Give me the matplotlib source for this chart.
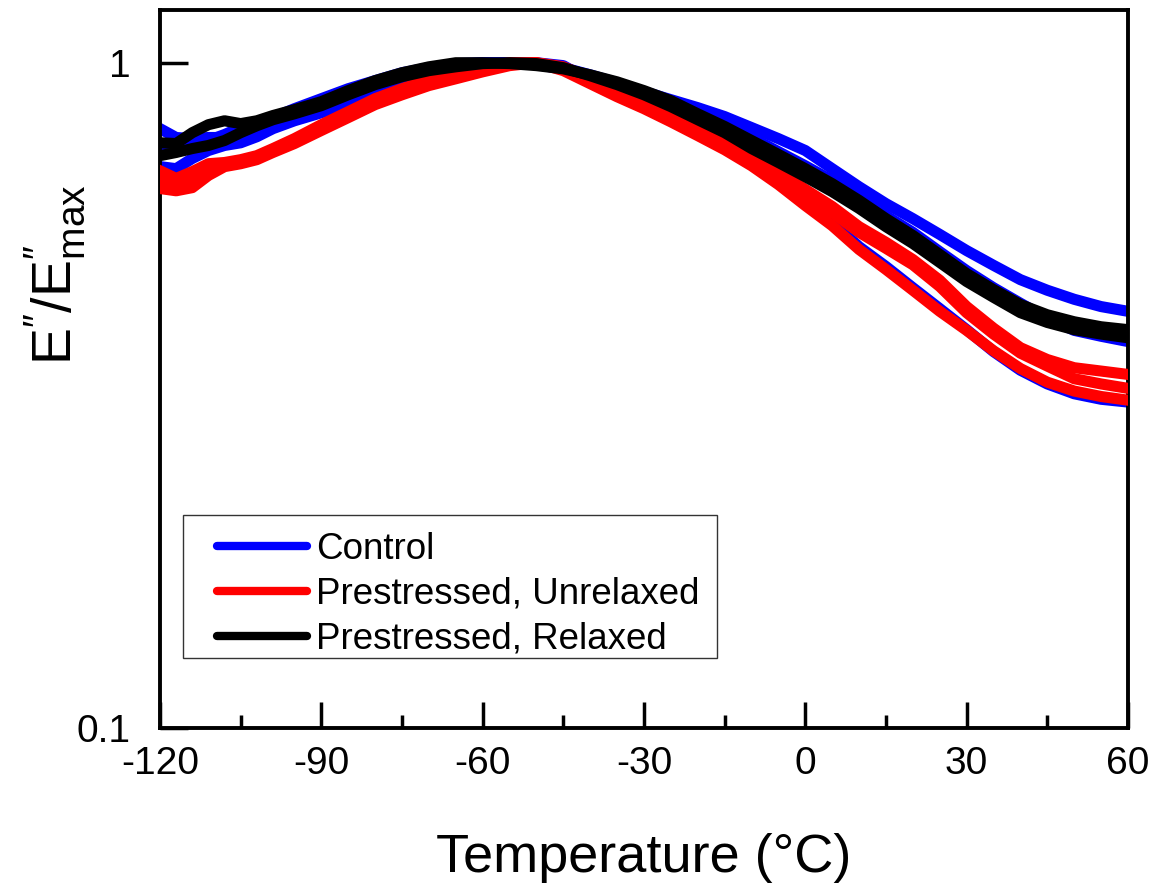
import matplotlib
matplotlib.use('Agg')
import matplotlib.pyplot as plt
from matplotlib.lines import Line2D
from matplotlib.patches import Rectangle
from matplotlib.ticker import MultipleLocator, NullLocator

plt.rcParams['font.family'] = ['Liberation Sans', 'DejaVu Sans']
plt.rcParams['mathtext.fontset'] = 'custom'
plt.rcParams['mathtext.rm'] = 'Liberation Sans'
plt.rcParams['mathtext.it'] = 'Liberation Sans:italic'
plt.rcParams['axes.unicode_minus'] = False

# temperature grid (deg C), shared by all runs
temp = [-120, -117, -114, -111, -108, -105, -102, -99, -95, -90, -85, -80, -75, -70,
        -65, -60, -55, -50, -45, -40, -35, -30, -25, -20, -15, -10, -5, 0,
        5, 10, 15, 20, 25, 30, 35, 40, 45, 50, 55, 60]

# E''/E''max, control runs
control_1 = [0.796, 0.772, 0.769, 0.772, 0.772, 0.761, 0.785, 0.827, 0.853, 0.883, 0.914, 0.940,
             0.966, 0.983, 0.997, 1.000, 1.000, 0.997, 0.983, 0.959, 0.933, 0.905, 0.880, 0.856,
             0.830, 0.799, 0.769, 0.738, 0.693, 0.651, 0.614, 0.583, 0.552, 0.522, 0.496, 0.472,
             0.455, 0.441, 0.430, 0.423]
control_2 = [0.738, 0.738, 0.751, 0.764, 0.780, 0.799, 0.813, 0.827, 0.844, 0.868, 0.898, 0.930,
             0.956, 0.976, 0.993, 1.000, 1.000, 0.993, 0.979, 0.956, 0.930, 0.901, 0.871, 0.838,
             0.810, 0.772, 0.735, 0.700, 0.665, 0.627, 0.589, 0.556, 0.520, 0.487, 0.459, 0.435,
             0.413, 0.396, 0.388, 0.381]
control_3 = [0.698, 0.693, 0.718, 0.738, 0.751, 0.758, 0.774, 0.796, 0.818, 0.841, 0.868, 0.895,
             0.924, 0.949, 0.973, 0.990, 0.997, 1.000, 0.990, 0.940, 0.898, 0.862, 0.824, 0.785,
             0.748, 0.708, 0.663, 0.616, 0.575, 0.529, 0.494, 0.459, 0.427, 0.397, 0.368, 0.345,
             0.329, 0.318, 0.312, 0.309]

# prestressed, unrelaxed runs
unrelaxed_1 = [0.688, 0.670, 0.686, 0.705, 0.708, 0.715, 0.725, 0.743, 0.769, 0.807, 0.844, 0.883,
               0.914, 0.943, 0.966, 0.986, 1.000, 1.000, 0.986, 0.949, 0.908, 0.871, 0.833, 0.796,
               0.761, 0.725, 0.686, 0.645, 0.608, 0.567, 0.537, 0.506, 0.471, 0.430, 0.399, 0.373,
               0.358, 0.348, 0.344, 0.340]
unrelaxed_2 = [0.665, 0.654, 0.665, 0.693, 0.700, 0.710, 0.720, 0.738, 0.761, 0.799, 0.835, 0.874,
               0.905, 0.933, 0.956, 0.979, 0.997, 1.000, 0.979, 0.940, 0.898, 0.862, 0.824, 0.788,
               0.751, 0.713, 0.672, 0.631, 0.595, 0.556, 0.526, 0.497, 0.461, 0.421, 0.391, 0.366,
               0.350, 0.335, 0.329, 0.324]
unrelaxed_3 = [0.647, 0.642, 0.649, 0.677, 0.698, 0.705, 0.715, 0.733, 0.756, 0.791, 0.827, 0.865,
               0.895, 0.924, 0.946, 0.969, 0.990, 1.000, 0.973, 0.930, 0.889, 0.853, 0.815, 0.777,
               0.740, 0.700, 0.656, 0.610, 0.569, 0.524, 0.489, 0.455, 0.423, 0.396, 0.369, 0.347,
               0.331, 0.321, 0.315, 0.311]

# prestressed, relaxed runs
relaxed_1 = [0.758, 0.756, 0.785, 0.807, 0.818, 0.810, 0.818, 0.833, 0.850, 0.874, 0.908, 0.940,
             0.966, 0.986, 1.000, 1.000, 0.997, 0.990, 0.979, 0.959, 0.936, 0.908, 0.877, 0.838,
             0.802, 0.764, 0.728, 0.693, 0.658, 0.621, 0.583, 0.550, 0.515, 0.482, 0.456, 0.433,
             0.418, 0.408, 0.401, 0.397]
relaxed_2 = [0.725, 0.733, 0.743, 0.751, 0.764, 0.785, 0.804, 0.821, 0.838, 0.862, 0.895, 0.927,
             0.953, 0.973, 0.986, 0.997, 1.000, 0.997, 0.983, 0.956, 0.927, 0.895, 0.859, 0.821,
             0.785, 0.743, 0.708, 0.674, 0.640, 0.604, 0.567, 0.535, 0.501, 0.469, 0.444, 0.421,
             0.407, 0.397, 0.391, 0.386]

groups = ['Control', 'Prestressed, Unrelaxed', 'Prestressed, Relaxed']
colors = ['#0000ff', '#ff0000', '#000000']
runs = [[control_1, control_2, control_3],
        [unrelaxed_1, unrelaxed_2, unrelaxed_3],
        [relaxed_1, relaxed_2]]

fig = plt.figure(figsize=(11.62, 8.90), dpi=100)
ax = fig.add_axes([0.1377, 0.182, 0.833, 0.8067])

for i, group_runs in enumerate(runs):
    for r in group_runs:
        ax.plot(temp, r, color=colors[i], lw=8, zorder=2 + i)

ax.set_yscale('log')
ax.set_xlim(-120, 60)
ax.set_ylim(0.1, 1.2)
ax.set_xticks(range(-120, 61, 30))
ax.xaxis.set_minor_locator(MultipleLocator(15))
ax.set_yticks([0.1, 1])
ax.set_yticklabels(['0.1', '1'])
ax.yaxis.set_minor_locator(NullLocator())

ax.tick_params(axis='x', which='major', direction='in', length=19, width=2.5,
               labelsize=28, pad=13, top=False)
ax.tick_params(axis='x', which='minor', direction='in', length=9.5, width=2.5, top=False)
ax.tick_params(axis='y', which='major', direction='in', length=20, width=2.5,
               labelsize=28, pad=21, right=False)
for s in ax.spines.values():
    s.set_linewidth(2.8)

dq = '\u2033'
ax.set_xlabel('Temperature (°C)', fontsize=39, labelpad=37)
ax.set_ylabel('E$^{' + dq + '}$/E$^{' + dq + '}_{\\mathregular{max}}$', fontsize=40)
ax.yaxis.set_label_coords(-0.074, 0.631)

# legend with a plain square box
ax.add_patch(Rectangle((0.0238, 0.0975), 0.552, 0.1995, transform=ax.transAxes,
                       facecolor='white', edgecolor='#333333', lw=1, zorder=10))
handles = [Line2D([], [], color=c, lw=6, solid_capstyle='round') for c in colors]
leg = ax.legend(handles, groups, loc='upper left', bbox_to_anchor=(0.0589, 0.273),
                frameon=False, fontsize=26.5, handlelength=2.45, handletextpad=0.25,
                labelspacing=0.27, borderpad=0, borderaxespad=0)
leg.set_zorder(11)

fig.savefig('out.png', dpi=100)
